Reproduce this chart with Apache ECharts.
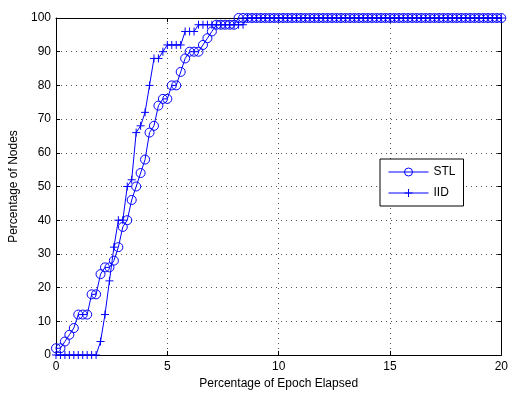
<!DOCTYPE html>
<html>
<head>
<meta charset="utf-8">
<script src="https://cdn.jsdelivr.net/npm/echarts@6/dist/echarts.min.js"></script>
<style>
html, body { margin: 0; padding: 0; background: #fff; }
#chart { width: 511px; height: 399px; }
</style>
</head>
<body>
<div id="chart"></div>
<script>
// sample positions (percentage of epoch elapsed)
var epochPct = [
    0, 0.2, 0.4, 0.6, 0.8, 1, 1.2, 1.4, 1.6, 1.8,
    2, 2.2, 2.4, 2.6, 2.8, 3, 3.2, 3.4, 3.6, 3.8,
    4, 4.2, 4.4, 4.6, 4.8, 5, 5.2, 5.4, 5.6, 5.8,
    6, 6.2, 6.4, 6.6, 6.8, 7, 7.2, 7.4, 7.6, 7.8,
    8, 8.2, 8.4, 8.6, 8.8, 9, 9.2, 9.4, 9.6, 9.8,
    10, 10.2, 10.4, 10.6, 10.8, 11, 11.2, 11.4, 11.6, 11.8,
    12, 12.2, 12.4, 12.6, 12.8, 13, 13.2, 13.4, 13.6, 13.8,
    14, 14.2, 14.4, 14.6, 14.8, 15, 15.2, 15.4, 15.6, 15.8,
    16, 16.2, 16.4, 16.6, 16.8, 17, 17.2, 17.4, 17.6, 17.8,
    18, 18.2, 18.4, 18.6, 18.8, 19, 19.2, 19.4, 19.6, 19.8,
    20
]
var stlNodes = [
    2, 2, 4, 6, 8, 12, 12, 12, 18, 18,
    24, 26, 26, 28, 32, 38, 40, 46, 50, 54,
    58, 66, 68, 74, 76, 76, 80, 80, 84, 88,
    90, 90, 90, 92, 94, 96, 98, 98, 98, 98,
    98, 100, 100, 100, 100, 100, 100, 100, 100, 100,
    100, 100, 100, 100, 100, 100, 100, 100, 100, 100,
    100, 100, 100, 100, 100, 100, 100, 100, 100, 100,
    100, 100, 100, 100, 100, 100, 100, 100, 100, 100,
    100, 100, 100, 100, 100, 100, 100, 100, 100, 100,
    100, 100, 100, 100, 100, 100, 100, 100, 100, 100,
    100
]
var iidNodes = [
    0, 0, 0, 0, 0, 0, 0, 0, 0, 0,
    4, 12, 22, 32, 40, 40, 50, 52, 66, 68,
    72, 80, 88, 88, 90, 92, 92, 92, 92, 96,
    96, 96, 98, 98, 98, 98, 98, 98, 98, 98,
    98, 98, 98, 100, 100, 100, 100, 100, 100, 100,
    100, 100, 100, 100, 100, 100, 100, 100, 100, 100,
    100, 100, 100, 100, 100, 100, 100, 100, 100, 100,
    100, 100, 100, 100, 100, 100, 100, 100, 100, 100,
    100, 100, 100, 100, 100, 100, 100, 100, 100, 100,
    100, 100, 100, 100, 100, 100, 100, 100, 100, 100,
    100
]
var seriesNames = ["STL", "IID"]

function pairs(ys) {
    return epochPct.map(function (x, i) { return [x, ys[i]] })
}

var blue = "#0000ff"
var font = "Liberation Sans, Arial, Helvetica, sans-serif"
var dotted = { type: [1, 4], color: "#555", width: 1 }

var chart = echarts.init(document.getElementById("chart"))

var option = {
    animation: false,
    textStyle: { fontFamily: font },
    grid: { left: 56, right: 8, top: 18, bottom: 44, show: false },
    legend: {
        orient: "vertical",
        left: 380,
        top: 159,
        itemWidth: 40,
        itemHeight: 10,
        itemGap: 9,
        padding: [7, 8, 7, 8],
        borderColor: "#000",
        borderWidth: 1,
        backgroundColor: "#fff",
        selectedMode: false,
        lineStyle: { width: 1 },
        itemStyle: { borderWidth: 1 },
        textStyle: { fontSize: 12, color: "#000", fontFamily: font },
        data: seriesNames
    },
    xAxis: [
        {
            type: "value",
            min: 0,
            max: 20,
            interval: 5,
            position: "bottom",
            name: "Percentage of Epoch Elapsed",
            nameLocation: "middle",
            nameGap: 22,
            nameTextStyle: { fontSize: 12, color: "#000", fontFamily: font },
            axisLine: { show: true, onZero: false, lineStyle: { color: "#000", width: 1 } },
            axisTick: { show: true, inside: true, length: 4, lineStyle: { color: "#000" } },
            axisLabel: { color: "#000", fontSize: 12, margin: 6, fontFamily: font },
            splitLine: { show: true, lineStyle: dotted }
        },
        {
            type: "value",
            min: 0,
            max: 20,
            interval: 5,
            position: "top",
            axisLine: { show: true, onZero: false, lineStyle: { color: "#000", width: 1 } },
            axisTick: { show: true, inside: true, length: 4, lineStyle: { color: "#000" } },
            axisLabel: { show: false },
            splitLine: { show: false }
        }
    ],
    yAxis: [
        {
            type: "value",
            min: 0,
            max: 100,
            interval: 10,
            position: "left",
            name: "Percentage of Nodes",
            nameLocation: "middle",
            nameGap: 30,
            nameTextStyle: { fontSize: 12, color: "#000", fontFamily: font },
            axisLine: { show: true, onZero: false, lineStyle: { color: "#000", width: 1 } },
            axisTick: { show: true, inside: true, length: 4, lineStyle: { color: "#000" } },
            axisLabel: { color: "#000", fontSize: 12, margin: 5, fontFamily: font },
            splitLine: { show: true, lineStyle: dotted }
        },
        {
            type: "value",
            min: 0,
            max: 100,
            interval: 10,
            position: "right",
            axisLine: { show: true, onZero: false, lineStyle: { color: "#000", width: 1 } },
            axisTick: { show: true, inside: true, length: 4, lineStyle: { color: "#000" } },
            axisLabel: { show: false },
            splitLine: { show: false }
        }
    ],
    series: [
        {
            name: seriesNames[0],
            type: "line",
            data: pairs(stlNodes),
            symbol: "circle",
            symbolSize: 9,
            clip: false,
            lineStyle: { color: blue, width: 1 },
            itemStyle: { color: "rgba(0,0,0,0)", borderColor: blue, borderWidth: 1 },
            emphasis: { disabled: true }
        },
        {
            name: seriesNames[1],
            type: "line",
            data: pairs(iidNodes),
            symbol: "path://M4,0L4,8M0,4L8,4",
            symbolSize: 8,
            clip: false,
            lineStyle: { color: blue, width: 1 },
            itemStyle: { color: "rgba(0,0,0,0)", borderColor: blue, borderWidth: 1 },
            emphasis: { disabled: true }
        }
    ]
}
chart.setOption(option)
</script>
</body>
</html>
